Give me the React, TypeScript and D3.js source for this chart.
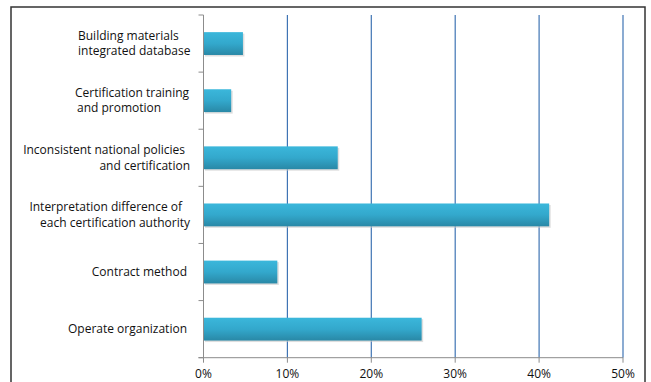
import React from "react";
import * as d3 from "d3";

const categories = [
  "Building materials integrated database",
  "Certification training and promotion",
  "Inconsistent national policies and certification",
  "Interpretation difference of each certification authority",
  "Contract method",
  "Operate organization",
];
const labelLines = [
  ["Building materials", "integrated database"],
  ["Certification training", "and promotion"],
  ["Inconsistent national policies", "and certification"],
  ["Interpretation difference of", "each certification authority"],
  ["Contract method"],
  ["Operate organization"],
];
const values = [4.7, 3.3, 16.0, 41.2, 8.8, 26.0];
const xTicks = [0, 10, 20, 30, 40, 50];

const W = 651;
const H = 382;
const plot = { left: 203.5, right: 623, top: 15, bottom: 357.7 };
const FONT = "'Open Sans', 'Noto Sans', sans-serif";

// label layout style: per-line anchoring (style, not data)
const labelPos = [
  [{ a: "start", x: 78 }, { a: "start", x: 78 }],
  [{ a: "start", x: 75 }, { a: "start", x: 77 }],
  [{ a: "end", x: 185 }, { a: "end", x: 190 }],
  [{ a: "end", x: 182 }, { a: "end", x: 190 }],
  [{ a: "end", x: 187 }],
  [{ a: "end", x: 187 }],
];

export default function App() {
  const x = d3.scaleLinear().domain([0, 50]).range([plot.left, plot.right]);
  const y = d3
    .scaleBand<string>()
    .domain(categories)
    .range([plot.top, plot.bottom])
    .paddingInner(0.6)
    .paddingOuter(0.3);
  const step = (plot.bottom - plot.top) / categories.length;
  const lineH = 15.5;

  return (
    <svg
      width={W}
      height={H}
      style={{ position: "absolute", left: 0, top: 0, background: "#fff" }}
    >
      <defs>
        <linearGradient id="barGrad" x1="0" y1="0" x2="0" y2="1">
          <stop offset="0" stopColor="#3bb7db" />
          <stop offset="0.5" stopColor="#33a8cc" />
          <stop offset="1" stopColor="#2988a6" />
        </linearGradient>
      </defs>
      <rect x={11} y={7} width={634} height={H + 10} fill="#fff" stroke="#333" strokeWidth={1.5} />

      {/* gridlines */}
      {xTicks.slice(1).map((t) => (
        <line
          key={"g" + t}
          x1={x(t)}
          x2={x(t)}
          y1={plot.top}
          y2={plot.bottom}
          stroke="#3f74b4"
          strokeWidth={1.2}
        />
      ))}

      {/* bars */}
      {categories.map((c, i) => (
        <g key={c}>
          <rect
            x={x(0) + 1.5}
            y={(y(c) as number) + 1.5}
            width={x(values[i]) - x(0)}
            height={y.bandwidth()}
            fill="#c8c8c8"
            opacity={0.6}
          />
          <rect
            x={x(0)}
            y={y(c) as number}
            width={x(values[i]) - x(0)}
            height={y.bandwidth()}
            fill="url(#barGrad)"
          />
        </g>
      ))}

      {/* left axis */}
      <line x1={plot.left} x2={plot.left} y1={plot.top} y2={plot.bottom} stroke="#8c8c8c" strokeWidth={1} />
      {d3.range(categories.length + 1).map((k) => (
        <line
          key={"yt" + k}
          x1={plot.left - 5}
          x2={plot.left}
          y1={plot.top + k * step}
          y2={plot.top + k * step}
          stroke="#8c8c8c"
        />
      ))}

      {/* bottom axis */}
      <line x1={plot.left - 5} x2={plot.right} y1={plot.bottom} y2={plot.bottom} stroke="#8c8c8c" strokeWidth={1} />
      {xTicks.map((t) => (
        <g key={"xt" + t}>
          <line x1={x(t)} x2={x(t)} y1={plot.bottom} y2={plot.bottom + 5} stroke="#8c8c8c" />
          <text
            x={x(t)}
            y={378}
            textAnchor="middle"
            fontFamily={FONT}
            fontSize={12}
            fill="#111"
          >
            {t + "%"}
          </text>
        </g>
      ))}

      {/* category labels */}
      {categories.map((c, i) => {
        const lines = labelLines[i];
        const cy = (y(c) as number) + y.bandwidth() / 2;
        const y0 = cy - ((lines.length - 1) * lineH) / 2 + 4;
        return (
          <g key={"l" + c} fontFamily={FONT} fontSize={12} fill="#111">
            {lines.map((ln, j) => (
              <text
                key={j}
                x={labelPos[i][j].x}
                y={y0 + j * lineH}
                textAnchor={labelPos[i][j].a as any}
              >
                {ln}
              </text>
            ))}
          </g>
        );
      })}
    </svg>
  );
}
